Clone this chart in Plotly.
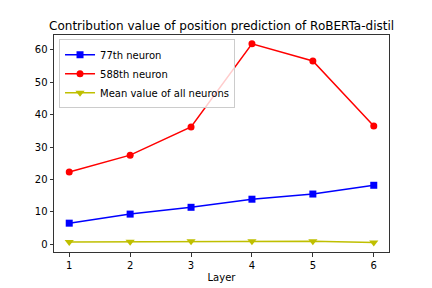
import plotly.graph_objects as go

layers = [1, 2, 3, 4, 5, 6]
n77 = [6.5, 9.3, 11.4, 13.9, 15.5, 18.2]
n588 = [22.3, 27.5, 36.2, 61.9, 56.6, 36.5]
mean_all = [0.7, 0.8, 0.9, 0.9, 0.9, 0.5]

fig = go.Figure()
fig.add_trace(go.Scatter(x=layers, y=n77, mode="lines+markers", name="77th neuron",
                         line=dict(color="#0000ff", width=1.5),
                         marker=dict(symbol="square", size=7, color="#0000ff")))
fig.add_trace(go.Scatter(x=layers, y=n588, mode="lines+markers", name="588th neuron",
                         line=dict(color="#ff0000", width=1.5),
                         marker=dict(symbol="circle", size=7, color="#ff0000")))
fig.add_trace(go.Scatter(x=layers, y=mean_all, mode="lines+markers", name="Mean value of all neurons",
                         line=dict(color="#bfbf00", width=1.5),
                         marker=dict(symbol="triangle-down", size=8, color="#bfbf00")))

fig.update_layout(
    width=432, height=288,
    margin=dict(l=54, r=43, t=35, b=36, autoexpand=False),
    paper_bgcolor="white", plot_bgcolor="white",
    font=dict(family="DejaVu Sans", size=10, color="#000000"),
    title=dict(text="Contribution value of position prediction of RoBERTa-distil",
               x=0.513, xanchor="center", y=0.91, yanchor="middle",
               font=dict(size=12)),
    xaxis=dict(range=[0.75, 6.25], tickvals=layers, showgrid=False, zeroline=False,
               showline=True, mirror=True, linecolor="#333333", linewidth=1,
               ticks="outside", ticklen=3.5, tickcolor="#333333", automargin=False,
               title=dict(text="Layer", standoff=4, font=dict(size=10))),
    yaxis=dict(range=[-2.4, 64.6], tickvals=[0, 10, 20, 30, 40, 50, 60], showgrid=False, zeroline=False,
               showline=True, mirror=True, linecolor="#333333", linewidth=1,
               ticks="outside", ticklen=3.5, tickcolor="#333333", automargin=False),
    legend=dict(x=0.015, y=0.98, xanchor="left", yanchor="top",
                bgcolor="rgba(255,255,255,0.8)", bordercolor="#cccccc", borderwidth=1,
                font=dict(size=10), tracegroupgap=0, itemwidth=30),
    showlegend=True,
)

fig.write_html("out.html", config={"displayModeBar": False},
               post_script="document.body.style.margin='0';document.body.style.overflow='hidden';")
